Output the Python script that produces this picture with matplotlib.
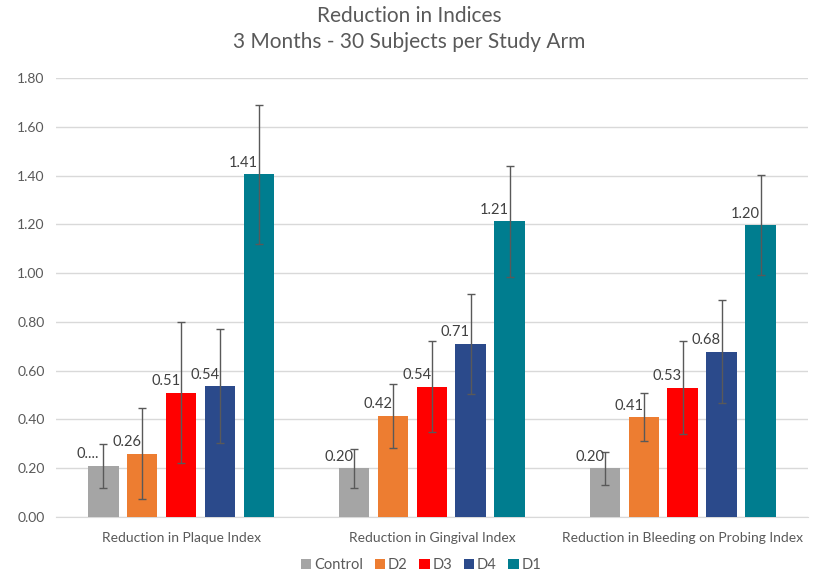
import matplotlib
matplotlib.use("Agg")
import matplotlib.pyplot as plt
import numpy as np

categories = ["Reduction in Plaque Index", "Reduction in Gingival Index",
              "Reduction in Bleeding on Probing Index"]
series = ["Control", "D2", "D3", "D4", "D1"]
colors = ["#A5A5A5", "#ED7D31", "#FF0000", "#2B4A8B", "#007D8F"]

values = {
    "Control": [0.21, 0.20, 0.20],
    "D2": [0.26, 0.415, 0.41],
    "D3": [0.51, 0.535, 0.53],
    "D4": [0.537, 0.71, 0.678],
    "D1": [1.405, 1.213, 1.197],
}
errors = {
    "Control": [0.09, 0.08, 0.067],
    "D2": [0.185, 0.13, 0.10],
    "D3": [0.29, 0.185, 0.19],
    "D4": [0.235, 0.205, 0.21],
    "D1": [0.285, 0.227, 0.205],
}
labels = {
    "Control": ["0....", "0.20", "0.20"],
    "D2": ["0.26", "0.42", "0.41"],
    "D3": ["0.51", "0.54", "0.53"],
    "D4": ["0.54", "0.71", "0.68"],
    "D1": ["1.41", "1.21", "1.20"],
}
yticks = [0.0, 0.2, 0.4, 0.6, 0.8, 1.0, 1.2, 1.4, 1.6, 1.8]

plt.rcParams['font.family'] = ['Lato', 'DejaVu Sans']
text_color = "#595959"

fig = plt.figure(figsize=(8.18, 5.76), dpi=100)
ax = fig.add_axes([0.068, 0.1024, 0.920, 0.7622])

x = np.arange(len(categories))
step = 0.155
width = 0.122
for i, s in enumerate(series):
    pos = x + (i - 2) * step
    ax.bar(pos, values[s], width, color=colors[i], label=s, zorder=3)
    ax.errorbar(pos, values[s], yerr=errors[s], fmt='none', ecolor="#595959",
                elinewidth=1, capsize=3, capthick=1, zorder=4)
    for p, v, t in zip(pos, values[s], labels[s]):
        ax.text(p - width * 0.5, v + 0.018, t, ha='center', va='bottom',
                fontsize=10.5, color="#404040", zorder=5)

ax.set_xlim(-0.5, 2.5)
ax.set_ylim(0, 1.8)
ax.set_yticks(yticks)
ax.set_yticklabels([f"{t:.2f}" for t in yticks])
ax.set_xticks(x)
ax.set_xticklabels(categories)
ax.tick_params(axis='both', length=0, colors=text_color, labelsize=10)
ax.tick_params(axis='x', pad=11)
ax.tick_params(axis='y', pad=8)
ax.grid(axis='y', color="#D9D9D9", linewidth=1, zorder=0)
for sp in ["top", "right", "left"]:
    ax.spines[sp].set_visible(False)
ax.spines["bottom"].set_color("#D9D9D9")

fig.suptitle("Reduction in Indices\n3 Months - 30 Subjects per Study Arm",
             fontsize=15, color=text_color, y=0.99, linespacing=1.4)

leg = fig.legend(loc='lower center', ncol=5, frameon=False, fontsize=10.5,
                 bbox_to_anchor=(0.515, -0.016), handlelength=0.7, handleheight=0.7,
                 handletextpad=0.2, columnspacing=0.8)
for t in leg.get_texts():
    t.set_color(text_color)

fig.savefig("out.png", dpi=100)
